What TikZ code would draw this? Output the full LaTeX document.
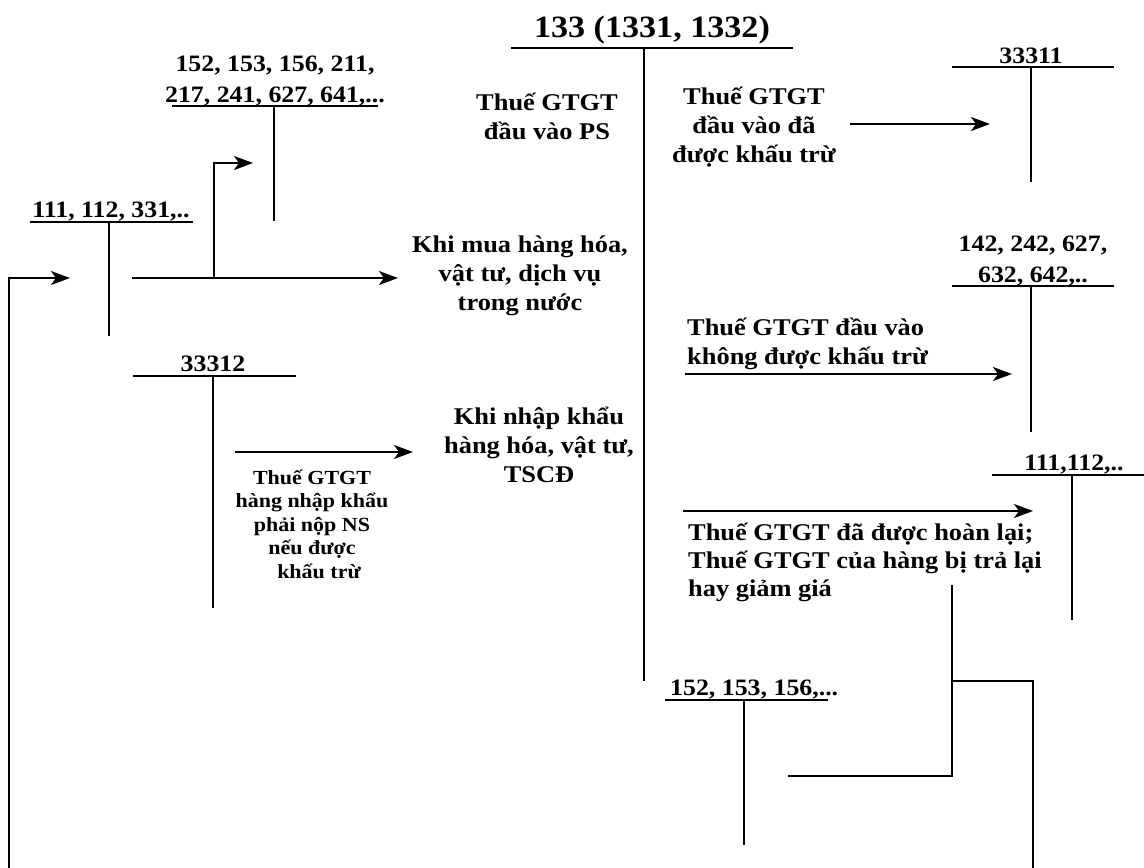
\documentclass[tikz,border=0pt]{standalone}
\usepackage{fontspec}
\setmainfont{Liberation Serif}[FakeStretch=1.1]
\usetikzlibrary{arrows.meta}
\tikzset{
  ln/.style={line width=1.8pt, black},
  arr/.style={ln, -{Stealth[length=19pt,width=14pt,inset=5pt]}},
  body/.style={inner sep=0pt, font=\bfseries\fontsize{24}{29}\selectfont, align=center, anchor=base},
  bodyl/.style={inner sep=0pt, font=\bfseries\fontsize{24}{29}\selectfont, align=left, anchor=base west},
  bodyll/.style={inner sep=0pt, font=\bfseries\fontsize{24}{28}\selectfont, align=left, anchor=base west},
  small/.style={inner sep=0pt, font=\bfseries\fontsize{20}{23.5}\selectfont, align=center, anchor=base},
  acc/.style={inner sep=0pt, font=\bfseries\fontsize{23.5}{31}\selectfont, align=center, anchor=base},
  ttl/.style={inner sep=0pt, font=\bfseries\fontsize{31}{36}\selectfont, anchor=base},
}
\begin{document}
\begin{tikzpicture}[x=1pt,y=-1pt]
\useasboundingbox (0,0) rectangle (1144,868);
% texts (multi-line nodes: anchor at baseline of last line)
\node[ttl] (t133) at (652,37) {133 (1331, 1332)};
\node[acc] (a152top) at (275,102) {152, 153, 156, 211,\\217, 241, 627, 641,...};
\node[acc] (a111) at (111,217) {111, 112, 331,..};
\node[acc] (a33312) at (213,371) {33312};
\node[acc] (a33311) at (1031,63) {33311};
\node[acc] (a142) at (1033,282) {142, 242, 627,\\632, 642,..};
\node[acc] (a111r) at (1074,470) {111,112,..};
\node[acc, anchor=base west] (a152b) at (670,695) {152, 153, 156,...};
\node[body] (tvps) at (547,139) {Thuế GTGT\\đầu vào PS};
\node[body] (tvdkt) at (754,162) {Thuế GTGT\\đầu vào đã\\được khấu trừ};
\node[body] (kmua) at (520,310) {Khi mua hàng hóa,\\vật tư, dịch vụ\\trong nước};
\node[body] (knk) at (539,482) {Khi nhập khẩu\\hàng hóa, vật tư,\\TSCĐ};
\node[bodyl] (tkkt) at (687,364) {Thuế GTGT đầu vào\\không được khấu trừ};
\node[bodyll] (thl) at (688,596) {Thuế GTGT đã được hoàn lại;\\Thuế GTGT của hàng bị trả lại\\hay giảm giá};
\node[small] (tnk) at (312,578) {Thuế GTGT\\hàng nhập khẩu\\phải nộp NS\\nếu được\\\hspace*{14pt}khấu trừ};
% T-account coordinates
\coordinate (m1) at (511,48); \coordinate (m2) at (793,48);
\coordinate (m3) at (644,48); \coordinate (m4) at (644,681);
\coordinate (p1) at (952,67); \coordinate (p2) at (1114,67);
\coordinate (p3) at (1031,67); \coordinate (p4) at (1031,182);
\coordinate (q1) at (952,286); \coordinate (q2) at (1114,286);
\coordinate (q3) at (1031,286); \coordinate (q4) at (1031,432);
\coordinate (r1) at (992,475); \coordinate (r2) at (1144,475);
\coordinate (r3) at (1072,475); \coordinate (r4) at (1072,620);
\coordinate (s1) at (665,700); \coordinate (s2) at (828,700);
\coordinate (s3) at (744,700); \coordinate (s4) at (744,845);
\coordinate (u1) at (172,106); \coordinate (u2) at (378,106);
\coordinate (u3) at (274,106); \coordinate (u4) at (274,221);
\coordinate (v1) at (30,222); \coordinate (v2) at (193,222);
\coordinate (v3) at (109,222); \coordinate (v4) at (109,336);
\coordinate (w1) at (133,376); \coordinate (w2) at (296,376);
\coordinate (w3) at (213,376); \coordinate (w4) at (213,608);
\foreach \k in {m,p,q,r,s,u,v,w}{
  \draw[ln] (\k1) -- (\k2);
  \draw[ln] (\k3) -- (\k4);
}
% arrows
\coordinate (e0) at (9,868); \coordinate (e1) at (70,278);
\draw[arr] (e0) |- (e1);
\coordinate (f0) at (132,278); \coordinate (f1) at (398,278);
\draw[arr] (f0) -- (f1);
\coordinate (g0) at (214,278); \coordinate (g1) at (253,163);
\draw[arr] (g0) |- (g1);
\coordinate (h0) at (235,452); \coordinate (h1) at (413,452);
\draw[arr] (h0) -- (h1);
\coordinate (i0) at (850,124); \coordinate (i1) at (990,124);
\draw[arr] (i0) -- (i1);
\coordinate (j0) at (685,374); \coordinate (j1) at (1012,374);
\draw[arr] (j0) -- (j1);
\coordinate (k0) at (683,511); \coordinate (k1) at (1033,511);
\draw[arr] (k0) -- (k1);
\coordinate (l0) at (952,585); \coordinate (l1) at (952,776); \coordinate (l2) at (788,776);
\draw[ln] (l0) -- (l1) -- (l2);
\coordinate (n0) at (952,681); \coordinate (n1) at (1033,681); \coordinate (n2) at (1033,868);
\draw[ln] (n0) -- (n1) -- (n2);
\end{tikzpicture}
\end{document}
